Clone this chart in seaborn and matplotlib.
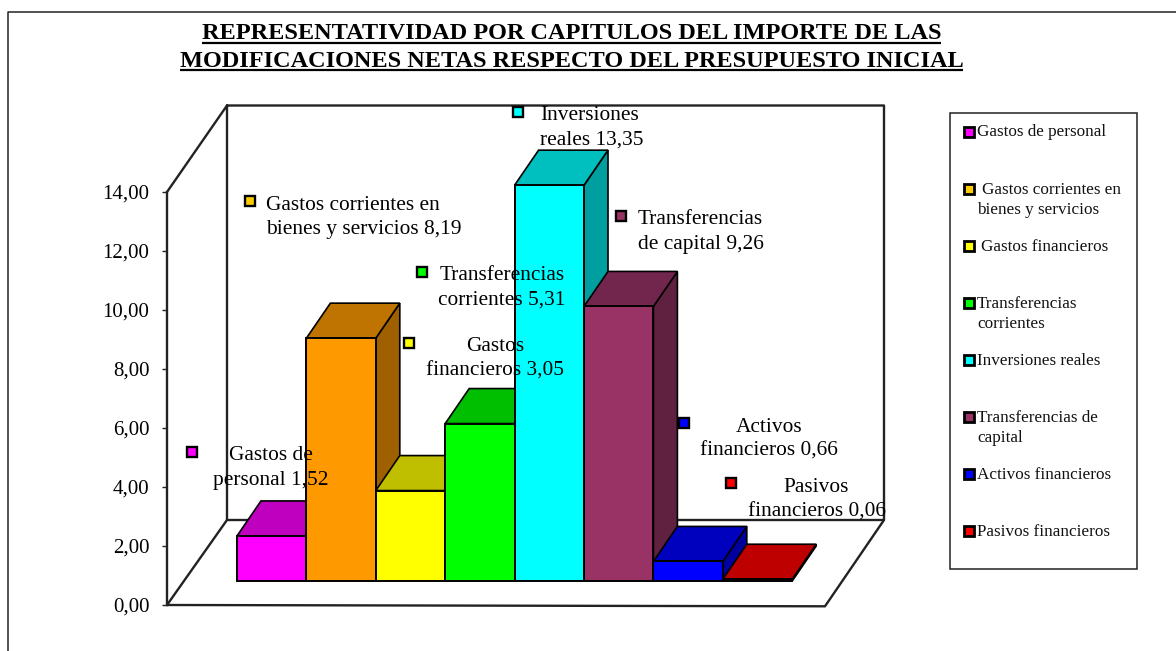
import matplotlib
matplotlib.use("Agg")
import matplotlib.pyplot as plt
from matplotlib.patches import Polygon, Rectangle
from matplotlib.colors import to_rgb
import pandas as pd
import seaborn as sns

sns.set_theme(style="white")
plt.rcParams['font.family'] = ['Liberation Serif', 'DejaVu Serif']

# ---- data ----
categories = ["Gastos de personal", "Gastos corrientes en bienes y servicios",
              "Gastos financieros", "Transferencias corrientes", "Inversiones reales",
              "Transferencias de capital", "Activos financieros", "Pasivos financieros"]
values = [1.52, 8.19, 3.05, 5.31, 13.35, 9.26, 0.66, 0.06]
bar_colors = ["#FF00FF", "#FF9900", "#FFFF00", "#00FF00", "#00FFFF", "#993366", "#0000FF", "#FF0000"]
key_colors = ["#FF00FF", "#FFCC00", "#FFFF00", "#00FF00", "#00FFFF", "#993366", "#0000FF", "#FF0000"]
value_ticks = [0, 2, 4, 6, 8, 10, 12, 14]
title_lines = ["REPRESENTATIVIDAD POR CAPITULOS DEL IMPORTE DE LAS",
               "MODIFICACIONES NETAS RESPECTO DEL PRESUPUESTO INICIAL"]

# ---- layout (pixels of the 1176x651 picture) ----
W, H = 1176, 651
BAR_LEFT, BAR_STEP, BAR_BASE, BAR_SCALE = 237.0, 69.4, 581.0, 29.65
DEPTH_X, DEPTH_Y = 24.0, 35.0
LINE = "#222222"
LBL = 15.4
TICK = 15.0
LEG = 12.3

# marker (x, y), alignment, anchor x, [(text, baseline y), ...]
labels = [
    ((192, 452), "center", 270.5, [("Gastos de", 460.5), ("personal 1,52", 485)]),
    ((249.5, 201), "left", 266, [("Gastos corrientes en", 209.5), ("bienes y servicios 8,19", 234)]),
    ((409, 343), "center", 495, [("Gastos", 351), ("financieros 3,05", 376)]),
    ((422, 272), "center", 502, [("Transferencias", 280), ("corrientes 5,31", 305)]),
    ((518, 112), "left", 540, [("Inversiones", 120), ("reales 13,35", 145)]),
    ((621, 216), "left", 638, [("Transferencias", 224), ("de capital 9,26", 249)]),
    ((684, 423), "center", 769, [("Activos", 431.5), ("financieros 0,66", 456)]),
    ((731, 483), "center", 816.5, [("Pasivos", 491.5), ("financieros 0,06", 516.5)]),
]
# swatch y, [(text, x, baseline y), ...]
legend_rows = [
    (131.5, [("Gastos de personal", 977, 136.5)]),
    (188.7, [("Gastos corrientes en", 981.5, 193.5), ("bienes y servicios", 977, 213.5)]),
    (246, [("Gastos financieros", 981, 251)]),
    (303, [("Transferencias", 977, 308), ("corrientes", 977, 327.5)]),
    (360, [("Inversiones reales", 977, 365)]),
    (417, [("Transferencias de", 977, 422), ("capital", 977, 441.5)]),
    (474, [("Activos financieros", 977, 479)]),
    (531, [("Pasivos financieros", 977, 536)]),
]

fig = plt.figure(figsize=(W / 100, H / 100), dpi=100, facecolor="white")


def axes_px(x0, x1, ytop, ybottom, zorder):
    a = fig.add_axes([x0 / W, 1 - ybottom / H, (x1 - x0) / W, (ybottom - ytop) / H], zorder=zorder)
    a.patch.set_alpha(0)
    return a


# background: picture border and 3D walls, pixel coordinates
bg = axes_px(0, W, 0, H, 0)
bg.set_xlim(0, W)
bg.set_ylim(H, 0)
bg.axis("off")
bg.plot([7.5, 7.5, W], [H, 11.5, 11.5], color=LINE, lw=1.1, clip_on=False)
lw_wall = 1.7
bg.plot([167, 227, 884, 884, 227, 227], [192, 105.5, 105.5, 520, 520, 105.5], color=LINE, lw=lw_wall)
bg.plot([227, 167, 825, 884], [520, 605, 606.3, 520], color=LINE, lw=lw_wall)

# value axis
ax_val = axes_px(167, 400, 191.7, 604.7, 1)
ax_val.set_ylim(0, 14)
ax_val.set_yticks(value_ticks)
ax_val.set_yticklabels([f"{v:.2f}".replace(".", ",") for v in value_ticks], fontsize=TICK)
ax_val.set_xticks([])
ax_val.tick_params(axis="y", left=True, length=3.6, width=1, color=LINE, pad=9, labelcolor="black")
for side in ["top", "right", "bottom"]:
    ax_val.spines[side].set_visible(False)
ax_val.spines["left"].set_color(LINE)
ax_val.spines["left"].set_linewidth(lw_wall)

# bars
n = len(values)
ax_bar = axes_px(BAR_LEFT, BAR_LEFT + n * BAR_STEP, BAR_BASE - 14 * BAR_SCALE, BAR_BASE, 2)
df = pd.DataFrame({"capitulo": categories, "valor": values})
sns.barplot(data=df, x="capitulo", y="valor", hue="capitulo", order=categories, hue_order=categories,
            palette=dict(zip(categories, bar_colors)), width=1.0, saturation=1, dodge=False,
            edgecolor="black", linewidth=1.4, legend=False, ax=ax_bar, zorder=5)
ax_bar.set_xlim(-0.5, n - 0.5)
ax_bar.set_ylim(0, 14)
ax_bar.axis("off")
for patch in ax_bar.patches:
    patch.set_clip_on(False)

dx, dy = DEPTH_X / BAR_STEP, DEPTH_Y / BAR_SCALE


def shade(color, f):
    return tuple(c * f for c in to_rgb(color))


for i, (v, c) in enumerate(zip(values, bar_colors)):
    l, r = i - 0.5, i + 0.5
    ax_bar.add_patch(Polygon([(r, 0), (r + dx, dy), (r + dx, v + dy), (r, v)], closed=True,
                             fc=shade(c, 0.625), ec="black", lw=1.2, zorder=2 + i * 0.01, clip_on=False))
    ax_bar.add_patch(Polygon([(l, v), (l + dx, v + dy), (r + dx, v + dy), (r, v)], closed=True,
                             fc=shade(c, 0.75), ec="black", lw=1.2, zorder=2 + i * 0.01 + 0.001, clip_on=False))

# foreground: title, data labels, legend
fg = axes_px(0, W, 0, H, 3)
fg.set_xlim(0, W)
fg.set_ylim(H, 0)
fg.axis("off")

fig.canvas.draw()
rend = fig.canvas.get_renderer()
for line, base, ul in zip(title_lines, [39.3, 66.7], [42.7, 70.3]):
    t = fg.text(571.5, base, line, ha="center", va="baseline", fontsize=17.45, fontweight="bold", color="black")
    bb = t.get_window_extent(rend)
    fg.plot([bb.x0, bb.x1], [ul, ul], color="black", lw=1.6, solid_capstyle="butt")

for (mk, align, ax_x, lines), col in zip(labels, key_colors):
    fg.plot([mk[0]], [mk[1]], marker="s", ms=7.6, mfc=col, mec="black", mew=1.7, ls="none")
    for txt, y in lines:
        fg.text(ax_x, y, txt, ha=align, va="baseline", fontsize=LBL, color="black")

fg.add_patch(Rectangle((949.7, 112.7), 187.6, 456.3, fc="white", ec=LINE, lw=1.1, zorder=1))
for (sy, rows), col in zip(legend_rows, key_colors):
    fg.plot([969], [sy], marker="s", ms=6.6, mfc=col, mec="black", mew=2.0, ls="none", zorder=3)
    for txt, x, y in rows:
        fg.text(x, y, txt, ha="left", va="baseline", fontsize=LEG, color="#111111", zorder=3)

fig.savefig("out.png", dpi=100, facecolor="white")
